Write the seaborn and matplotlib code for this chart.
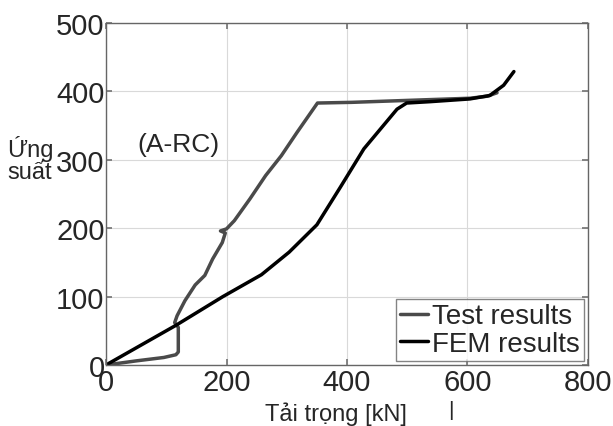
import pandas as pd
import matplotlib
matplotlib.use("Agg")
import matplotlib.pyplot as plt
import seaborn as sns

# Dữ liệu
test_tai = [0, 50, 96, 116, 120, 120, 114, 118, 131, 148, 164, 177, 193, 198, 190, 200,
            213, 239, 265, 291, 317, 351, 408, 473, 538, 604, 633, 649]
test_ung = [0, 6, 11, 15, 19, 55, 62, 72, 94, 117, 131, 155, 179, 193, 196, 199,
            211, 243, 277, 306, 340, 383, 384, 386, 388, 390, 393, 398]

fem_tai = [0, 116, 194, 258, 304, 350, 389, 428, 483, 499, 538, 604, 637, 660, 677]
fem_ung = [0, 58, 100, 132, 165, 205, 260, 316, 374, 383, 385, 389, 394, 409, 429]

xticks = [0, 200, 400, 600, 800]
yticks = [0, 100, 200, 300, 400, 500]

df = pd.concat([
    pd.DataFrame({"tai": test_tai, "ung": test_ung, "loai": "Test results"}),
    pd.DataFrame({"tai": fem_tai, "ung": fem_ung, "loai": "FEM results"}),
])

sns.set_theme(style="whitegrid")
plt.rcParams["font.family"] = ["Liberation Sans", "DejaVu Sans"]

fig = plt.figure(figsize=(6.13, 4.27), dpi=100)
ax = fig.add_axes([106 / 613, 1 - 366 / 427, 482 / 613, 342 / 427])

sns.lineplot(data=df, x="tai", y="ung", hue="loai", sort=False, estimator=None,
             palette={"Test results": "#4a4a4a", "FEM results": "#000000"},
             linewidth=2.5, ax=ax)

ax.set_xlim(0, 800)
ax.set_ylim(0, 500)
ax.set_xticks(xticks)
ax.set_yticks(yticks)
ax.tick_params(labelsize=21, direction="in", length=4, color="#777777", pad=1,
               bottom=True, left=True, right=True, top=True)
ax.tick_params(axis="x", pad=2)
ax.grid(True, color="#d9d9d9", linewidth=0.8)
for s in ax.spines.values():
    s.set_color("#666666")
    s.set_linewidth(1.0)

ax.set_xlabel("Tải trọng [kN]", fontsize=17)
ax.xaxis.set_label_coords((336 - 106) / 482, -(402 - 366) / 342, transform=None)
ax.xaxis.label.set_va("top")
ax.set_ylabel("")
fig.text(7 / 613, 1 - 160 / 427, "Ứng\nsuất", fontsize=17, ha="left", va="center",
         linespacing=0.95)
ax.text(120, 323, "(A-RC)", fontsize=19, ha="center", va="center")
fig.text(451 / 613, 1 - 411 / 427, "|", fontsize=15, ha="center", va="center")

leg = ax.legend(loc="lower right", fontsize=20, frameon=True, fancybox=False,
                handlelength=1.0, handletextpad=0.15, borderpad=0.15,
                labelspacing=0.05, borderaxespad=0.15)
leg.get_frame().set_edgecolor("#666666")
leg.get_frame().set_linewidth(1.0)

fig.savefig("out.png", dpi=100)
